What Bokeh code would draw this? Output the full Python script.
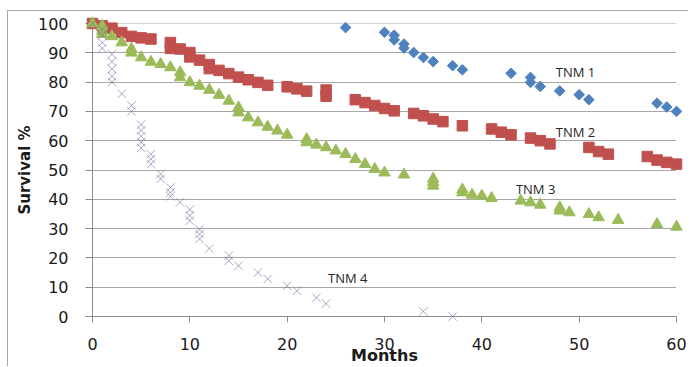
from bokeh.plotting import figure
from bokeh.models import Range1d, FixedTicker
from bokeh.embed import file_html
from bokeh.resources import INLINE
from bokeh.core.properties import value

# ---- data ----
x_ticks = [0, 10, 20, 30, 40, 50, 60]
y_ticks = [0, 10, 20, 30, 40, 50, 60, 70, 80, 90, 100]

tnm1_months = [26, 30, 31, 31, 32, 32, 33, 34, 35, 37, 38, 43, 45, 45, 46, 48, 50, 51, 58, 59, 60]
tnm1_surv = [98.6, 97, 96, 94.4, 93, 91.6, 90.1, 88.4, 87, 85.6, 84.2, 83, 81.6, 79.9, 78.5, 77,
             75.7, 74, 72.8, 71.5, 70]

tnm2_months = [0, 1, 2, 3, 4, 5, 6, 8, 8, 9, 10, 10, 11, 12, 12, 13, 14, 15, 16, 17, 18, 20, 21, 22,
               24, 24, 27, 28, 29, 30, 31, 33, 34, 35, 36, 38, 41, 42, 43, 45, 46, 47, 51, 52, 53,
               57, 58, 59, 60]
tnm2_surv = [100, 99.2, 98.4, 96.9, 95.6, 95.1, 94.7, 93.5, 91.5, 91.3, 90.1, 88.6, 87.5, 86, 84.6,
             84, 82.9, 81.7, 80.8, 79.9, 78.9, 78.4, 77.7, 76.9, 77.3, 75.2, 74, 73, 72, 71, 70.2,
             69.3, 68.5, 67.4, 66.5, 65.1, 64, 62.9, 62, 60.9, 60, 58.9, 57.7, 56.3, 55.4, 54.6,
             53.4, 52.6, 52]

tnm3_months = [0, 1, 1, 1, 2, 3, 4, 4, 5, 6, 7, 8, 9, 9, 10, 11, 12, 13, 14, 15, 15, 16, 17, 18, 19,
               20, 22, 22, 23, 24, 25, 26, 27, 28, 29, 30, 32, 35, 35, 35, 38, 38, 39, 40, 41, 44,
               45, 46, 48, 48, 49, 51, 52, 54, 58, 60]
tnm3_surv = [100, 99.2, 97.5, 96.4, 95.6, 93.5, 91.3, 90, 88.4, 86.9, 86.1, 85, 83.3, 81.6, 79.9,
             78.7, 77.3, 75.6, 73.6, 71.3, 69.6, 67.9, 66.2, 64.7, 63.4, 62, 60.5, 59.4, 58.6,
             57.7, 56.6, 55.4, 53.7, 52, 50.3, 49.1, 48.4, 47, 45.8, 44.6, 43.3, 42.3, 41.5, 41.2,
             40.4, 39.5, 38.9, 38.1, 37.2, 36.1, 35.5, 34.9, 33.8, 32.9, 31.5, 30.6]

tnm4_months = [0, 1, 1, 1, 1, 2, 2, 2, 2, 2, 3, 4, 4, 5, 5, 5, 5, 5, 6, 6, 6, 7, 7, 8, 8, 8, 9, 10,
               10, 10, 11, 11, 11, 12, 14, 14, 15, 17, 18, 20, 21, 23, 24, 34, 37]
tnm4_surv = [100, 98, 96, 93.5, 91.5, 89.5, 87, 84.5, 82, 80, 76, 72, 70, 65.5, 63.5, 61.5, 59.5,
             57.5, 55.4, 53.7, 52, 48.6, 47, 44, 42.3, 41, 39, 36.5, 34.5, 32.7, 29.8, 28.1, 26.5,
             23.2, 20.8, 19, 17.3, 15, 12.8, 10.5, 8.8, 6.4, 4.4, 1.7, 0]

label_text = ["TNM 1", "TNM 2", "TNM 3", "TNM 4"]
label_x = [47.6, 47.6, 43.5, 24.2]
label_y = [83.6, 62.8, 43.5, 13.2]

# ---- figure ----
p = figure(width=681, height=356, output_backend="svg", toolbar_location=None,
           x_range=Range1d(0, 60), y_range=Range1d(0, 100.0001),
           min_border_left=84, min_border_right=13, min_border_top=12, min_border_bottom=51,
           background_fill_color="white", border_fill_color="white",
           styles={"margin-left": "7px", "margin-top": "10px",
                   "border-top": "1px solid #a6a6a6", "border-left": "1px solid #a6a6a6"})
p.outline_line_color = None

p.xgrid.visible = False
p.ygrid.grid_line_color = "#a6a6a6"
p.ygrid.grid_line_width = 1
p.ygrid.ticker = FixedTicker(ticks=y_ticks)

for ax in (p.xaxis[0], p.yaxis[0]):
    ax.axis_line_color = "#8c8c8c"
    ax.major_tick_line_color = "#8c8c8c"
    ax.minor_tick_line_color = None
    ax.major_tick_in = 0
    ax.major_label_text_font = "DejaVu Sans"
    ax.major_label_text_font_size = "16px"
    ax.major_label_text_color = "#1a1a1a"
    ax.axis_label_text_font = "DejaVu Sans"
    ax.axis_label_text_font_style = "bold"
    ax.axis_label_text_color = "#1a1a1a"

p.xaxis.axis_label_text_font_size = "16px"
p.yaxis.axis_label_text_font_size = "15px"
p.xaxis.ticker = FixedTicker(ticks=x_ticks)
p.yaxis.ticker = FixedTicker(ticks=y_ticks)
p.xaxis.bounds = (0, 60)
p.yaxis.bounds = (0, 100)
p.xaxis.major_tick_out = 6
p.yaxis.major_tick_out = 7
p.xaxis.major_label_standoff = 15
p.yaxis.major_label_standoff = 17
p.xaxis.axis_label = "Months"
p.yaxis.axis_label = "Survival %"
p.xaxis.axis_label_standoff = -7
p.yaxis.axis_label_standoff = 1

p.scatter(tnm1_months, tnm1_surv, marker="square", size=7.5, angle=0.785398,
          fill_color="#4F81BD", line_color="#4F81BD", level="overlay")
p.scatter(tnm2_months, tnm2_surv, marker="square", size=10.5,
          fill_color="#C0504D", line_color="#C0504D", level="overlay")
p.scatter(tnm3_months, tnm3_surv, marker="triangle", size=11.5,
          fill_color="#9BBB59", line_color="#9BBB59", level="overlay")
p.scatter(tnm4_months, tnm4_surv, marker="x", size=12,
          line_color="#8064A2", line_alpha=0.6, line_width=1, level="overlay")

p.text(x=label_x, y=label_y, text=label_text, text_font=value("Open Sans"),
       text_font_size="13px", text_color="#262626", text_align="left",
       text_baseline="middle", level="overlay")

open("out.html", "w").write(file_html(p, INLINE))
